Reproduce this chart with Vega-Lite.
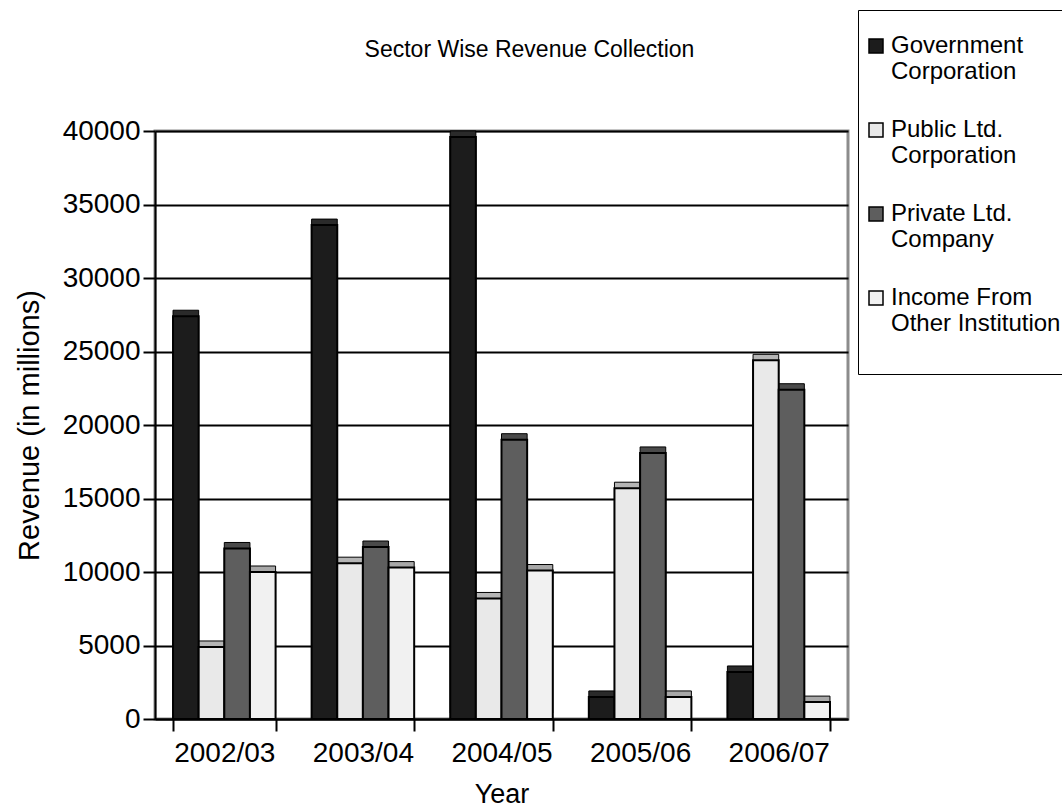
{
  "$schema": "https://vega.github.io/schema/vega-lite/v6.json",
  "autosize": "none",
  "width": 693,
  "height": 588,
  "padding": {"left": 155, "top": 131, "right": 214, "bottom": 91},
  "background": "white",
  "config": {
    "font": "Liberation Sans",
    "view": {"stroke": "#8c8c8c", "strokeWidth": 3}
  },
  "title": {
    "text": "Sector Wise Revenue Collection",
    "fontSize": 23,
    "fontWeight": "normal",
    "color": "black",
    "offset": -52,
    "dx": 28,
    "anchor": "middle"
  },
  "data": {
    "values": [
      {"Year": "2002/03", "Sector": "Government Corporation", "Revenue": 27400},
      {"Year": "2002/03", "Sector": "Public Ltd. Corporation", "Revenue": 4900},
      {"Year": "2002/03", "Sector": "Private Ltd. Company", "Revenue": 11600},
      {"Year": "2002/03", "Sector": "Income From Other Institution", "Revenue": 10000},
      {"Year": "2003/04", "Sector": "Government Corporation", "Revenue": 33600},
      {"Year": "2003/04", "Sector": "Public Ltd. Corporation", "Revenue": 10600},
      {"Year": "2003/04", "Sector": "Private Ltd. Company", "Revenue": 11700},
      {"Year": "2003/04", "Sector": "Income From Other Institution", "Revenue": 10300},
      {"Year": "2004/05", "Sector": "Government Corporation", "Revenue": 39600},
      {"Year": "2004/05", "Sector": "Public Ltd. Corporation", "Revenue": 8200},
      {"Year": "2004/05", "Sector": "Private Ltd. Company", "Revenue": 19000},
      {"Year": "2004/05", "Sector": "Income From Other Institution", "Revenue": 10100},
      {"Year": "2005/06", "Sector": "Government Corporation", "Revenue": 1500},
      {"Year": "2005/06", "Sector": "Public Ltd. Corporation", "Revenue": 15700},
      {"Year": "2005/06", "Sector": "Private Ltd. Company", "Revenue": 18100},
      {"Year": "2005/06", "Sector": "Income From Other Institution", "Revenue": 1500},
      {"Year": "2006/07", "Sector": "Government Corporation", "Revenue": 3200},
      {"Year": "2006/07", "Sector": "Public Ltd. Corporation", "Revenue": 24400},
      {"Year": "2006/07", "Sector": "Private Ltd. Company", "Revenue": 22400},
      {"Year": "2006/07", "Sector": "Income From Other Institution", "Revenue": 1150}
    ]
  },
  "encoding": {
    "x": {
      "field": "Year",
      "type": "nominal",
      "scale": {"paddingInner": 0.26, "paddingOuter": 0.13},
      "axis": {
        "title": "Year",
        "labelAngle": 0,
        "tickBand": "extent",
        "labelFontSize": 28,
        "labelColor": "black",
        "tickColor": "black",
        "tickSize": 12,
        "tickWidth": 2,
        "domainColor": "black",
        "domainWidth": 2,
        "labelPadding": 8,
        "titleFontSize": 27,
        "titleFontWeight": "normal",
        "titleColor": "black",
        "titlePadding": 14,
        "grid": false
      }
    },
    "xOffset": {
      "field": "Sector",
      "sort": ["Government Corporation", "Public Ltd. Corporation", "Private Ltd. Company", "Income From Other Institution"]
    },
    "y": {
      "field": "Revenue",
      "type": "quantitative",
      "scale": {"domain": [0, 40000], "nice": false},
      "axis": {
        "values": [0, 5000, 10000, 15000, 20000, 25000, 30000, 35000, 40000],
        "format": "d",
        "labelFontSize": 28,
        "labelColor": "black",
        "tickColor": "black",
        "tickSize": 12,
        "tickWidth": 2,
        "domainColor": "black",
        "domainWidth": 2,
        "grid": true,
        "gridColor": "black",
        "gridWidth": 2,
        "labelPadding": 3,
        "title": "Revenue (in millions)",
        "titleFontSize": 29,
        "titleFontWeight": "normal",
        "titleColor": "black",
        "titlePadding": 18
      }
    }
  },
  "layer": [
    {
      "mark": {"type": "bar", "xOffset": 6, "yOffset": -6, "stroke": "black", "strokeWidth": 1},
      "encoding": {
        "color": {
          "field": "Sector",
          "type": "nominal",
          "scale": {
            "domain": ["Government Corporation", "Public Ltd. Corporation", "Private Ltd. Company", "Income From Other Institution"],
            "range": ["#2a2a2a", "#b5b5b5", "#4a4a4a", "#a8a8a8"]
          },
          "legend": null
        }
      }
    },
    {
      "mark": {"type": "bar", "stroke": "black", "strokeWidth": 2},
      "encoding": {
        "color": {
          "field": "Sector",
          "type": "nominal",
          "scale": {
            "domain": ["Government Corporation", "Public Ltd. Corporation", "Private Ltd. Company", "Income From Other Institution"],
            "range": ["#1c1c1c", "#e9e9e9", "#5e5e5e", "#f1f1f1"]
          },
          "legend": {
            "orient": "none",
            "legendX": 703,
            "legendY": -121,
            "title": " ",
            "titleOrient": "bottom",
            "titleFontSize": 8,
            "titlePadding": 6,
            "labelFontSize": 24,
            "labelColor": "black",
            "labelLimit": 400,
            "labelLineHeight": 27.5,
            "labelOffset": 3,
            "symbolOffset": -18,
            "symbolType": "square",
            "symbolSize": 196,
            "symbolStrokeColor": "black",
            "symbolStrokeWidth": 1.5,
            "rowPadding": 34,
            "padding": 24,
            "strokeColor": "black",
            "fillColor": "white",
            "labelExpr": "datum.label == 'Government Corporation' ? ['Government', 'Corporation'] : datum.label == 'Public Ltd. Corporation' ? ['Public Ltd.', 'Corporation'] : datum.label == 'Private Ltd. Company' ? ['Private Ltd.', 'Company'] : ['Income From', 'Other Institution']"
          }
        }
      }
    }
  ],
  "resolve": {"scale": {"color": "independent"}}
}
